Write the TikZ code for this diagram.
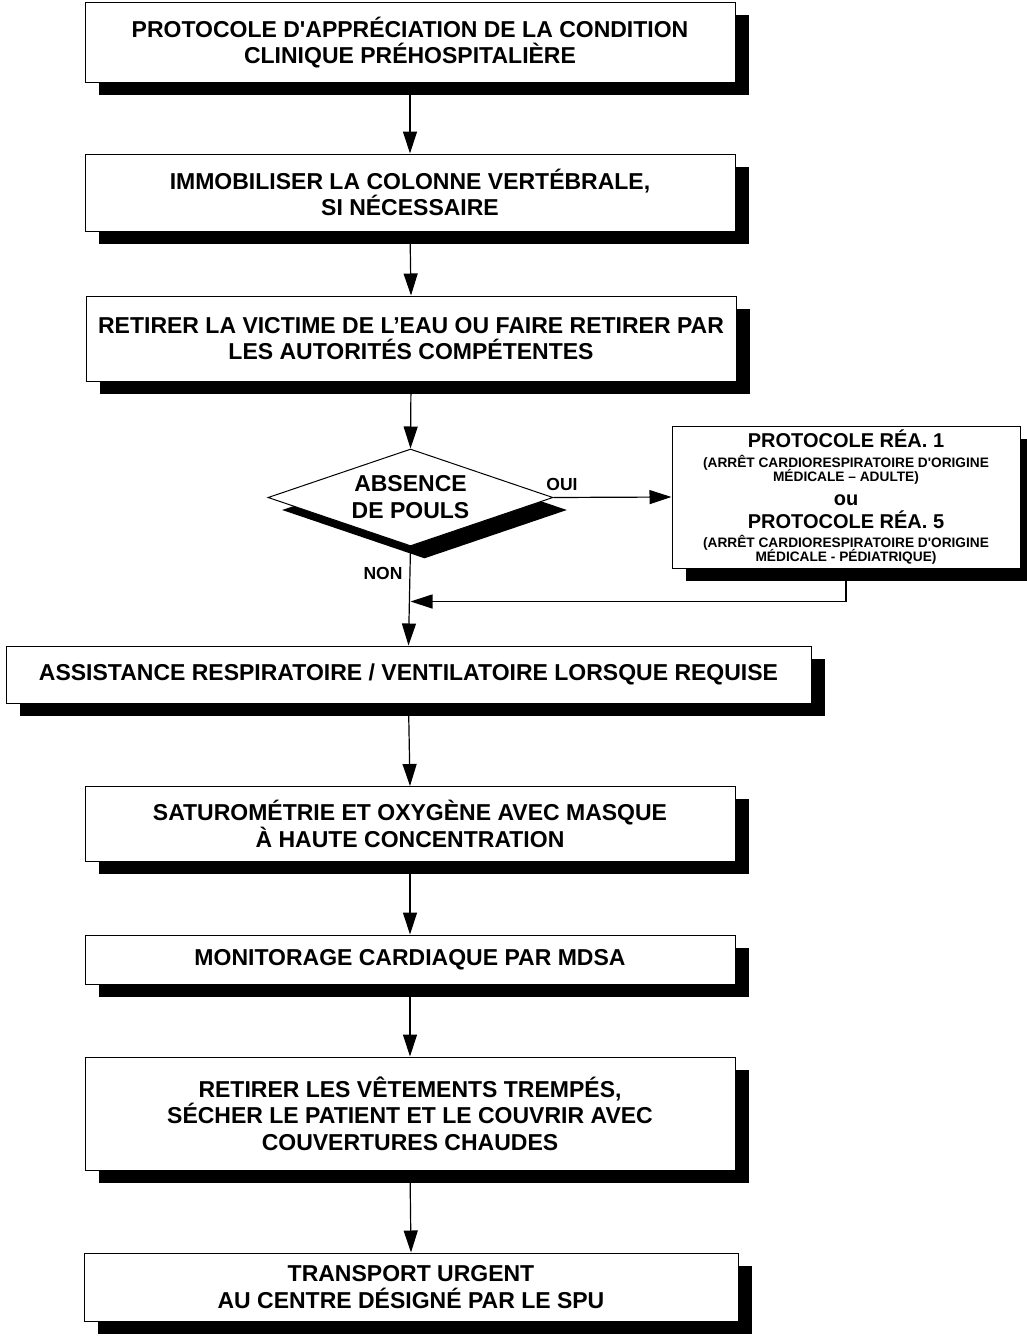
\documentclass[tikz,border=0pt]{standalone}
\usepackage{fontspec}
\setmainfont{Liberation Sans}
\usetikzlibrary{arrows.meta,shapes.geometric,shadows}
\begin{document}
\begin{tikzpicture}[x=1pt,y=-1pt,
  shadebox/.style={draw=black, line width=1pt, fill=white,
    drop shadow={shadow xshift=14pt, shadow yshift=-12.5pt, fill=black, opacity=1}},
  stepbox/.style={shadebox, rectangle, inner sep=0pt, align=center,
    font=\bfseries\fontsize{23}{26.5}\selectfont},
  test/.style={shadebox, diamond, aspect=2.94, inner sep=0pt, align=center,
    minimum width=285pt, minimum height=97pt,
    font=\bfseries\fontsize{23}{27}\selectfont},
  flow/.style={line width=1.2pt, -{Triangle[length=22pt,width=14pt]}},
  tag/.style={font=\bfseries\fontsize{17.5}{20}\selectfont, inner sep=0pt},
  bigline/.style={font=\bfseries\fontsize{20}{20}\selectfont, inner sep=0pt, anchor=base},
  smallline/.style={font=\bfseries\fontsize{13.7}{14}\selectfont, inner sep=0pt, anchor=base},
]
\fill[white] (0,0) rectangle (1026,1338);
\useasboundingbox (0,0) rectangle (1026,1338);

% main column of steps
\node[stepbox, minimum width=650pt, minimum height=79pt] (b1) at (410,42.5)
  {PROTOCOLE D\textquotesingle APPRÉCIATION DE LA CONDITION\\CLINIQUE PRÉHOSPITALIÈRE};
\node[stepbox, minimum width=650pt, minimum height=77pt] (b2) at (410,192.5)
  {IMMOBILISER LA COLONNE VERTÉBRALE,\\SI NÉCESSAIRE};
\node[stepbox, minimum width=650pt, minimum height=85pt] (b3) at (411,338.5)
  {RETIRER LA VICTIME DE L’EAU OU FAIRE RETIRER PAR\\LES AUTORITÉS COMPÉTENTES};
\node[test] (d) at (410.5,497.5) {ABSENCE\\DE POULS};

% cardiac arrest protocols
\node[shadebox, rectangle, minimum width=348pt, minimum height=142pt] (r) at (846,497) {};
\node[bigline] (r1) at (846,447) {PROTOCOLE RÉA. 1};
\node[smallline] (r2) at (846,467.5) {(ARRÊT CARDIORESPIRATOIRE D\textquotesingle ORIGINE};
\node[smallline] (r3) at (846,481.5) {MÉDICALE – ADULTE)};
\node[bigline] (r4) at (846,505) {ou};
\node[bigline] (r5) at (846,528.5) {PROTOCOLE RÉA. 5};
\node[smallline] (r6) at (846,547) {(ARRÊT CARDIORESPIRATOIRE D\textquotesingle ORIGINE};
\node[smallline] (r7) at (846,561) {MÉDICALE - PÉDIATRIQUE)};

\node[stepbox, minimum width=805pt, minimum height=57pt] (b4) at (408.5,674.5)
  {ASSISTANCE RESPIRATOIRE / VENTILATOIRE LORSQUE REQUISE};
\node[stepbox, minimum width=650pt, minimum height=75pt] (b5) at (410,824)
  {SATUROMÉTRIE ET OXYGÈNE AVEC MASQUE\\À HAUTE CONCENTRATION};
\node[stepbox, minimum width=650pt, minimum height=49pt] (b6) at (410,959.5)
  {MONITORAGE CARDIAQUE PAR MDSA};
\node[stepbox, minimum width=650pt, minimum height=113pt] (b7) at (410,1113.5)
  {RETIRER LES VÊTEMENTS TREMPÉS,\\SÉCHER LE PATIENT ET LE COUVRIR AVEC\\COUVERTURES CHAUDES};
\node[stepbox, minimum width=654pt, minimum height=68pt] (b8) at (411,1287)
  {TRANSPORT URGENT\\AU CENTRE DÉSIGNÉ PAR LE SPU};

% connectors
\coordinate (j) at (410.5,601.5);
\draw[flow] (b1.south) -- (b2.north);
\draw[flow] (b2.south) -- (b3.north);
\draw[flow] (b3.south) -- (d.north);
\draw[flow] (d.east) -- (r.west);
\draw[flow] (d.south) -- (b4.north);
\draw[flow] (r.south) |- (j);
\draw[flow] (b4.south) -- (b5.north);
\draw[flow] (b5.south) -- (b6.north);
\draw[flow] (b6.south) -- (b7.north);
\draw[flow] (b7.south) -- (b8.north);

% branch labels
\node[tag] (oui) at (562,484) {OUI};
\node[tag] (non) at (383,573) {NON};
\end{tikzpicture}
\end{document}
